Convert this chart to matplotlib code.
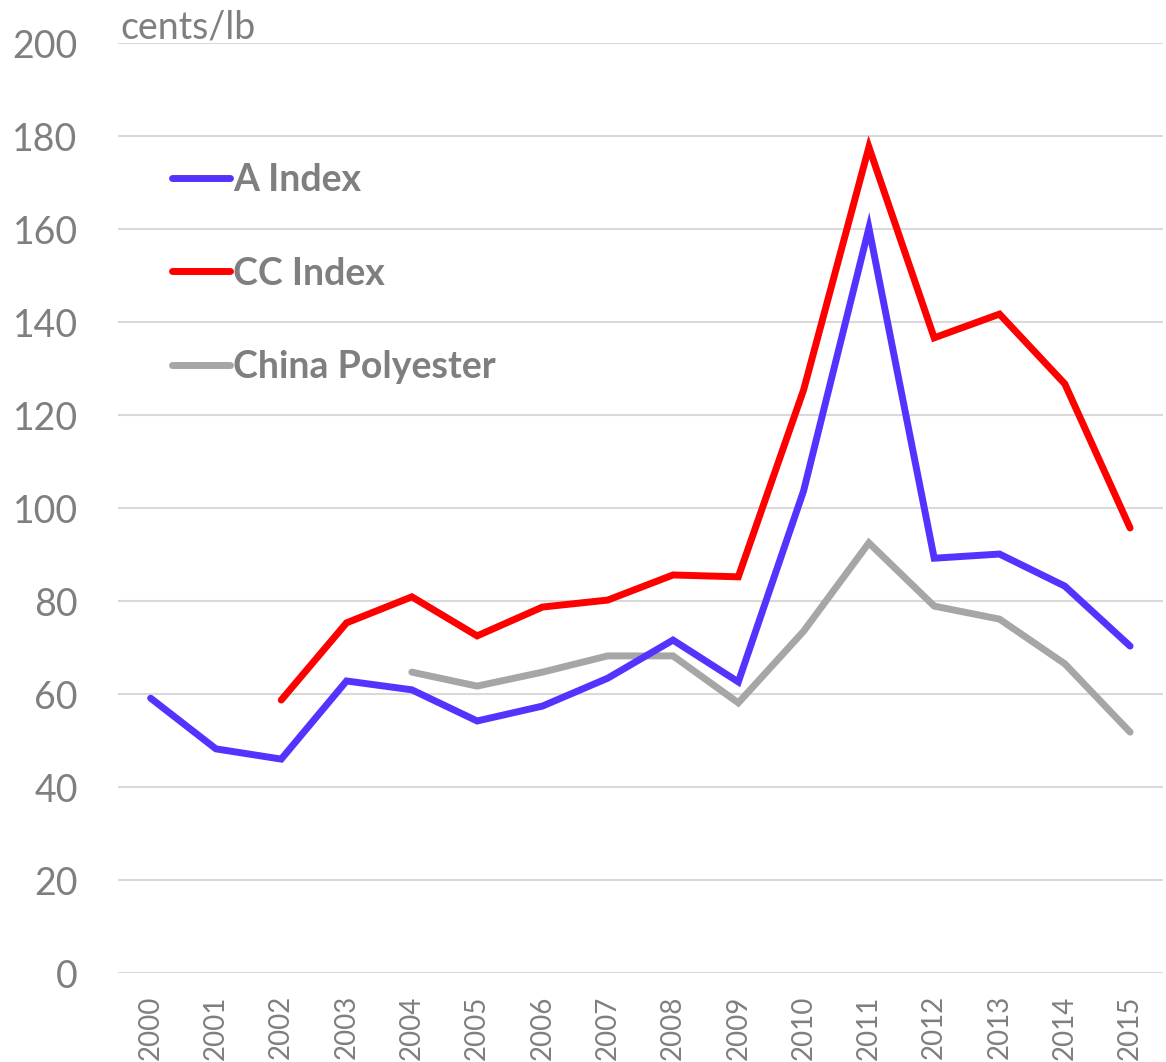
import matplotlib
matplotlib.use("Agg")
import matplotlib.pyplot as plt
import numpy as np

years = [str(y) for y in range(2000, 2016)]

a_index = [59.1, 48.2, 46.0, 62.8, 60.9, 54.2, 57.4, 63.4, 71.6, 62.6,
           103.7, 160.2, 89.2, 90.1, 83.2, 70.3]
cc_index = [np.nan, np.nan, 58.7, 75.3, 80.9, 72.5, 78.7, 80.2, 85.6, 85.2,
            125.4, 177.6, 136.6, 141.7, 126.7, 95.7]
china_poly = [np.nan, np.nan, np.nan, np.nan, 64.7, 61.7, 64.7, 68.2, 68.2, 58.1,
              73.5, 92.5, 78.9, 76.1, 66.5, 51.8]

yticks = [0, 20, 40, 60, 80, 100, 120, 140, 160, 180, 200]

txt = "#7f7f7f"
plt.rcParams['font.family'] = ['Lato', 'DejaVu Sans']

fig = plt.figure(figsize=(11.66, 10.62), dpi=100)
ax = fig.add_axes([0.1012, 0.0838, 0.896, 0.8757])

x = np.arange(len(years))
ax.plot(x, a_index, color="#5533ff", lw=5, solid_capstyle="round",
        solid_joinstyle="miter", label="A Index", zorder=3)
ax.plot(x, cc_index, color="#ff0000", lw=5, solid_capstyle="round",
        solid_joinstyle="miter", label="CC Index", zorder=3)
ax.plot(x, china_poly, color="#a6a6a6", lw=5, solid_capstyle="round",
        solid_joinstyle="miter", label="China Polyester", zorder=2)

ax.set_xlim(-0.5, 15.5)
ax.set_ylim(0, 200)
ax.set_yticks(yticks)
ax.set_yticklabels([str(v) for v in yticks])
ax.set_xticks(x)
ax.set_xticklabels(years, rotation=90, va="top", ha="center")
ax.grid(axis="y", color="#d9d9d9", lw=1.5)
ax.set_axisbelow(True)
for s in ax.spines.values():
    s.set_visible(False)
ax.tick_params(axis="y", length=0, pad=29, labelsize=27, labelcolor=txt)
ax.tick_params(axis="x", length=0, pad=16, labelsize=20, labelcolor=txt)

fig.text(120 / 1166, 1 - 38 / 1062, "cents/lb", fontsize=27, color=txt,
         ha="left", va="baseline")

leg = ax.legend(loc="upper left", bbox_to_anchor=(0.0517, 0.871), frameon=False,
                borderpad=0, borderaxespad=0, handlelength=1.55,
                handletextpad=0.08, labelspacing=1.59,
                prop={"size": 27, "weight": "bold"})
for t in leg.get_texts():
    t.set_color(txt)

fig.savefig("out.png", dpi=100)
